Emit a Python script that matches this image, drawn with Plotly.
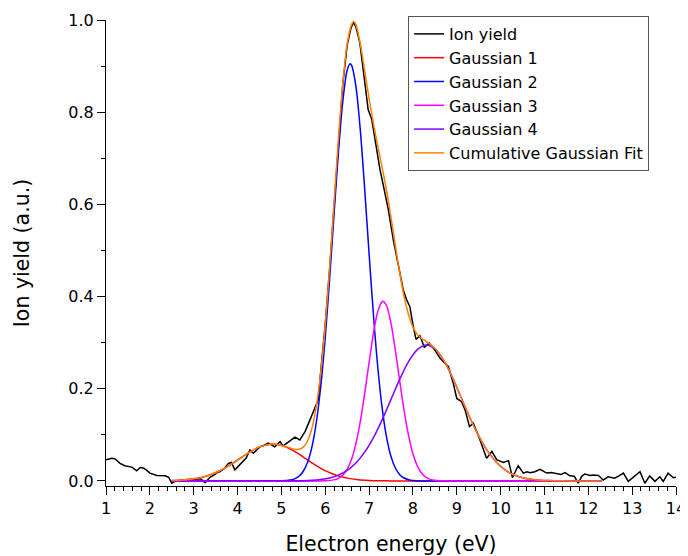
import plotly.graph_objects as go

# Ion yield (measured)
ion_x = [1.0, 1.13, 1.2, 1.32, 1.43, 1.5, 1.59, 1.7, 1.78, 1.85, 1.92, 2.0, 2.16, 2.35, 2.43, 2.5,
         2.6, 2.69, 2.8, 2.88, 2.97, 3.07, 3.17, 3.26, 3.37, 3.45, 3.52, 3.6, 3.7, 3.79, 3.86, 3.94,
         4.09, 4.2, 4.28, 4.36, 4.45, 4.51, 4.62, 4.7, 4.85, 4.97, 5.04, 5.13, 5.23, 5.31, 5.42, 5.54,
         5.65, 5.77, 5.84, 5.9, 6.0, 6.1, 6.2, 6.3, 6.4, 6.5, 6.58, 6.64, 6.7, 6.79, 6.88, 6.98,
         7.06, 7.15, 7.25, 7.35, 7.44, 7.553, 7.667, 7.78, 7.857, 7.93, 8.008, 8.07, 8.16, 8.26, 8.37,
         8.5, 8.62, 8.81, 8.92, 9.0, 9.11, 9.19, 9.29, 9.38, 9.53, 9.68, 9.8, 9.91, 10.06, 10.18,
         10.27, 10.4, 10.52, 10.6, 10.67, 10.78, 10.9, 11.05, 11.15, 11.28, 11.38, 11.47, 11.58,
         11.68, 11.77, 11.85, 11.92, 12.05, 12.12, 12.23, 12.34, 12.45, 12.6, 12.7, 12.8, 12.91,
         13.05, 13.18, 13.29, 13.4, 13.52, 13.63, 13.71, 13.82, 13.94, 14.0]
ion_y = [0.046, 0.049, 0.048, 0.038, 0.033, 0.032, 0.030, 0.022, 0.029, 0.028, 0.024, 0.017, 0.012, 0.011, 0.008, -0.005,
         0.0, 0.001, 0.002, -0.001, 0.003, 0.004, 0.004, -0.004, 0.008, 0.012, 0.017, 0.02, 0.027, 0.038, 0.040, 0.024,
         0.038, 0.050, 0.067, 0.060, 0.068, 0.074, 0.078, 0.082, 0.074, 0.085, 0.076, 0.082, 0.090, 0.095, 0.089, 0.107,
         0.132, 0.158, 0.176, 0.24, 0.34, 0.46, 0.60, 0.735, 0.86, 0.945, 0.98, 0.995, 0.985, 0.95, 0.88, 0.805,
         0.785, 0.735, 0.675, 0.63, 0.588, 0.523, 0.465, 0.414, 0.393, 0.378, 0.335, 0.307, 0.315, 0.29, 0.299,
         0.284, 0.266, 0.248, 0.212, 0.179, 0.172, 0.154, 0.118, 0.125, 0.089, 0.049, 0.064, 0.046, 0.040, 0.044,
         0.007, 0.033, 0.017, 0.020, 0.018, 0.020, 0.025, 0.017, 0.018, 0.015, 0.014, 0.018, 0.011,
         0.010, -0.005, 0.010, 0.015, 0.012, 0.013, 0.012, 0.002, 0.009, 0.006, 0.011, 0.017, -0.001,
         0.010, 0.020, -0.005, 0.011, -0.001, 0.009, -0.001, 0.017, 0.007, 0.008]

# Gaussian components
g1_x = [2.5, 2.75, 3.0, 3.25, 3.5, 3.75, 4.0, 4.25, 4.5, 4.75, 4.8, 5.0, 5.25, 5.5, 5.75, 6.0, 6.25,
        6.5, 6.75, 7.0, 7.25, 7.5, 8.0, 12.3]
g1_y = [0.0007, 0.0019, 0.0045, 0.0094, 0.0178, 0.030, 0.0453, 0.0611, 0.0738, 0.0798, 0.080, 0.0772,
        0.0668, 0.0518, 0.0359, 0.0222, 0.0123, 0.0061, 0.0027, 0.0011, 0.0004, 0.0001, 0.0, 0.0]

g2_x = [2.5, 5.0, 5.2, 5.3, 5.4, 5.5, 5.6, 5.7, 5.8, 5.9, 6.0, 6.1, 6.2, 6.3, 6.4, 6.5, 6.57, 6.6,
        6.7, 6.8, 6.9, 7.0, 7.1, 7.2, 7.3, 7.4, 7.5, 7.6, 7.7, 7.8, 7.9, 8.0, 8.2, 12.3]
g2_y = [0.0, 0.0003, 0.0019, 0.0045, 0.0101, 0.021, 0.041, 0.075, 0.129, 0.207, 0.311, 0.438, 0.577,
        0.712, 0.823, 0.891, 0.905, 0.902, 0.856, 0.761, 0.633, 0.493, 0.360, 0.245, 0.157, 0.094,
        0.053, 0.028, 0.0136, 0.0063, 0.0027, 0.0011, 0.0001, 0.0]

g3_x = [2.5, 6.0, 6.2, 6.3, 6.4, 6.5, 6.6, 6.7, 6.8, 6.9, 7.0, 7.1, 7.2, 7.3, 7.32, 7.4, 7.5, 7.6,
        7.7, 7.8, 7.9, 8.0, 8.1, 8.2, 8.3, 8.4, 8.5, 8.7, 12.3]
g3_y = [0.0, 0.0003, 0.0023, 0.0056, 0.0123, 0.0251, 0.047, 0.081, 0.129, 0.190, 0.257, 0.320, 0.368,
        0.389, 0.390, 0.380, 0.342, 0.283, 0.216, 0.152, 0.099, 0.059, 0.0326, 0.0165, 0.0077, 0.0033,
        0.0013, 0.0002, 0.0]

g4_x = [2.5, 5.2, 5.5, 5.7, 5.9, 6.1, 6.3, 6.5, 6.7, 6.9, 7.1, 7.3, 7.5, 7.7, 7.9, 8.1, 8.31, 8.5,
        8.7, 8.9, 9.1, 9.3, 9.5, 9.7, 9.9, 10.1, 10.3, 10.5, 10.7, 10.9, 11.1, 11.4, 12.3]
g4_y = [0.0, 0.0002, 0.0006, 0.0014, 0.0032, 0.0065, 0.0126, 0.0228, 0.039, 0.0624, 0.094, 0.133,
        0.177, 0.221, 0.259, 0.285, 0.295, 0.287, 0.262, 0.225, 0.181, 0.137, 0.0976, 0.0652, 0.041,
        0.0241, 0.0134, 0.0070, 0.0034, 0.0016, 0.0007, 0.0002, 0.0]

cum_x = [2.5, 2.75, 3.0, 3.25, 3.5, 3.75, 4.0, 4.25, 4.5, 4.75, 5.0, 5.2, 5.3, 5.4, 5.5, 5.6, 5.7,
         5.8, 5.9, 6.0, 6.1, 6.2, 6.3, 6.4, 6.5, 6.6, 6.65, 6.7, 6.8, 6.9, 7.0, 7.1, 7.2, 7.3, 7.4,
         7.5, 7.6, 7.7, 7.8, 7.9, 8.0, 8.1, 8.2, 8.3, 8.5, 8.7, 8.9, 9.1, 9.3, 9.5, 9.7, 9.9, 10.1,
         10.3, 10.5, 10.7, 10.9, 11.1, 11.4, 11.8, 12.3]
cum_y = [0.0007, 0.0019, 0.0045, 0.0094, 0.0178, 0.030, 0.0453, 0.0611, 0.0738, 0.0798, 0.0776,
         0.0715, 0.0688, 0.0686, 0.0734, 0.0872, 0.1153, 0.1641, 0.2375, 0.338, 0.463, 0.602, 0.741,
         0.861, 0.948, 0.99, 0.997, 0.99, 0.948, 0.89, 0.83, 0.775, 0.726, 0.679, 0.629, 0.572, 0.510,
         0.451, 0.399, 0.361, 0.334, 0.318, 0.309, 0.303, 0.288, 0.262, 0.225, 0.181, 0.137, 0.0976,
         0.0652, 0.041, 0.0241, 0.0134, 0.0070, 0.0034, 0.0016, 0.0007, 0.0002, 0.0, 0.0]

x_ticks = list(range(1, 15))
y_ticks = [0.0, 0.2, 0.4, 0.6, 0.8, 1.0]
y_tick_text = ["0.0", "0.2", "0.4", "0.6", "0.8", "1.0"]

FONT = "DejaVu Sans, Liberation Sans, Arial, sans-serif"

fig = go.Figure()
fig.add_trace(go.Scatter(x=ion_x, y=ion_y, mode="lines", name="Ion yield",
                         line=dict(color="#000000", width=1.5)))
series = [
    ("Gaussian 1", g1_x, g1_y, "#ff0000"),
    ("Gaussian 2", g2_x, g2_y, "#0000ff"),
    ("Gaussian 3", g3_x, g3_y, "#ff00ff"),
    ("Gaussian 4", g4_x, g4_y, "#8000ff"),
    ("Cumulative Gaussian Fit", cum_x, cum_y, "#ff8000"),
]
for name, xs, ys, col in series:
    fig.add_trace(go.Scatter(x=xs, y=ys, mode="lines", name=name,
                             line=dict(color=col, width=1.5, shape="spline", smoothing=0.8)))

# page body adds an 8px offset, so the figure is 8px smaller than the window
fig.update_layout(
    width=680, height=548,
    margin=dict(l=98, r=12, t=12, b=70, autoexpand=False),
    plot_bgcolor="white", paper_bgcolor="white",
    font=dict(family=FONT, size=16, color="black"),
    legend=dict(x=0.53, y=1.0086, xanchor="left", yanchor="top",
                bordercolor="#555555", borderwidth=1, bgcolor="white",
                font=dict(family=FONT, size=16), tracegroupgap=0),
    showlegend=True,
)
fig.update_xaxes(
    range=[1, 14], tickvals=x_ticks, showline=True, linecolor="black", linewidth=1,
    ticks="outside", ticklen=8, tickcolor="black", showgrid=False, zeroline=False,
    automargin=False,
    minor=dict(dtick=0.2, ticks="outside", ticklen=4, tickcolor="black", showgrid=False),
    title=dict(text="Electron energy (eV)", font=dict(family=FONT, size=20.5), standoff=22),
    tickfont=dict(family=FONT, size=16),
)
fig.update_yaxes(
    range=[-0.011, 1.0], tickvals=y_ticks, ticktext=y_tick_text, showline=True,
    linecolor="black", linewidth=1, ticks="outside", ticklen=8, tickcolor="black",
    showgrid=False, zeroline=False, automargin=False,
    minor=dict(dtick=0.1, ticks="outside", ticklen=4, tickcolor="black", showgrid=False),
    title=dict(text="Ion yield (a.u.)", font=dict(family=FONT, size=20.5), standoff=33),
    tickfont=dict(family=FONT, size=16),
)

fig.write_html("out.html")
